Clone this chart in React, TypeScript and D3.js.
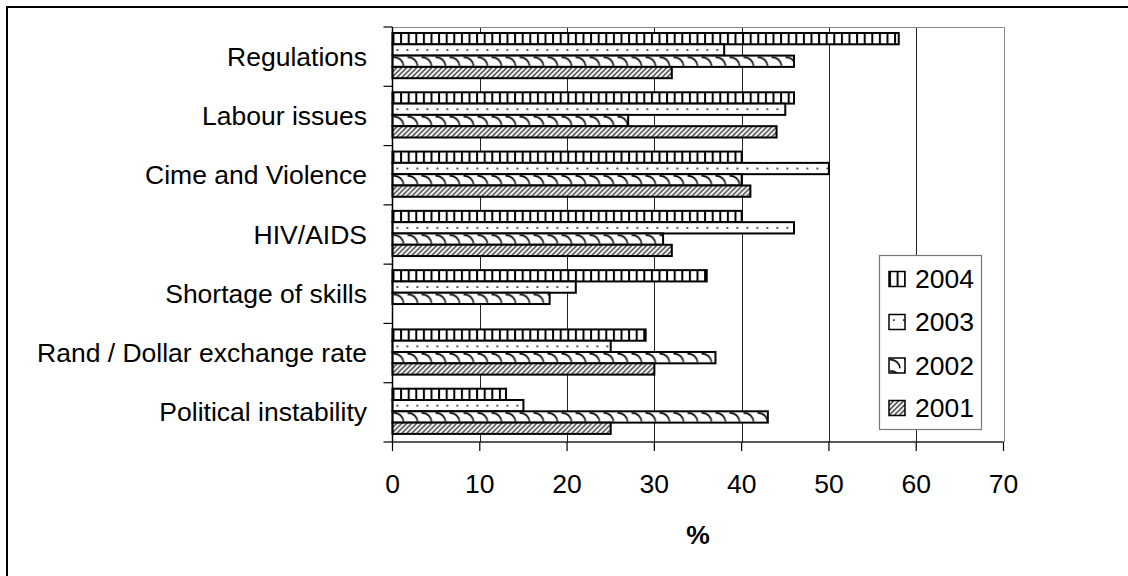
import React from "react";
import * as d3 from "d3";

// Share of respondents naming each constraint (%)
const categories = [
  "Regulations",
  "Labour issues",
  "Cime and Violence",
  "HIV/AIDS",
  "Shortage of skills",
  "Rand / Dollar exchange rate",
  "Political instability",
];
const years = ["2004", "2003", "2002", "2001"];
const values2004 = [58, 46, 40, 40, 36, 29, 13];
const values2003 = [38, 45, 50, 46, 21, 25, 15];
const values2002 = [46, 27, 40, 31, 18, 37, 43];
const values2001 = [32, 44, 41, 32, 0, 30, 25];
const xTicks = [0, 10, 20, 30, 40, 50, 60, 70];
const axisTitle = "%";

const seriesValues = [values2004, values2003, values2002, values2001];

const W = 1128;
const H = 576;
const plot = { left: 392.5, right: 1003.5, top: 27, bottom: 442 };
const FONT = "'Liberation Sans', Arial, sans-serif";
const FS = 26.5;
const BAR_H = 11.3;

export default function App() {
  const x = d3.scaleLinear().domain([0, 70]).range([plot.left, plot.right]);
  const y = d3.scaleBand<string>().domain(categories).range([plot.top, plot.bottom]);
  const inner = d3
    .scaleBand<string>()
    .domain(years)
    .range([6, 6 + BAR_H * 4]);

  const patternIds = ["pat2004", "pat2003", "pat2002", "pat2001"];

  const legend = { x: 879.5, y: 255.5, w: 102, h: 174 };
  const legendRowY = [279, 322, 365.5, 408];

  return (
    <svg
      width={W}
      height={H}
      style={{ position: "absolute", left: 0, top: 0, background: "#fff" }}
      fontFamily={FONT}
    >
      <defs>
        {/* vertical bars */}
        <pattern id="pat2004" patternUnits="userSpaceOnUse" width={7.6} height={BAR_H}>
          <rect width={7.6} height={BAR_H} fill="#fff" />
          <rect x={0} y={0} width={2} height={BAR_H} fill="#000" />
        </pattern>
        {/* sparse dots */}
        <pattern id="pat2003" patternUnits="userSpaceOnUse" width={10} height={BAR_H}>
          <rect width={10} height={BAR_H} fill="#fff" />
          <rect x={4} y={BAR_H / 2 - 0.8} width={1.6} height={1.6} fill="#000" />
        </pattern>
        {/* scallops */}
        <pattern id="pat2002" patternUnits="userSpaceOnUse" width={14} height={BAR_H}>
          <rect width={14} height={BAR_H} fill="#fff" />
          <path
            d={`M1,1.5 Q10,2 11,${BAR_H - 1}`}
            fill="none"
            stroke="#000"
            strokeWidth={1.5}
          />
        </pattern>
        {/* forward diagonal hatching */}
        <pattern id="pat2001" patternUnits="userSpaceOnUse" width={5} height={5}>
          <rect width={5} height={5} fill="#fff" />
          <path d="M-1,6 L6,-1 M-1,1 L1,-1 M4,6 L6,4" stroke="#000" strokeWidth={1.2} />
        </pattern>
      </defs>

      {/* outer frame */}
      <rect x={7} y={7} width={W + 20} height={H + 20} fill="none" stroke="#000" strokeWidth={2} />

      {/* gridlines */}
      {xTicks.slice(1).map((t) => (
        <line
          key={`g${t}`}
          x1={Math.round(x(t)) + 0.5}
          x2={Math.round(x(t)) + 0.5}
          y1={plot.top}
          y2={plot.bottom}
          stroke={t === 70 ? "#888" : "#222"}
          strokeWidth={1}
        />
      ))}
      <line x1={plot.left} x2={plot.right} y1={plot.top + 0.5} y2={plot.top + 0.5} stroke="#888" />

      {/* bars */}
      {categories.map((c, ci) =>
        years.map((yr, si) => {
          const v = seriesValues[si][ci];
          if (!v) return null;
          const by = (y(c) as number) + (inner(yr) as number);
          return (
            <g key={`${c}-${yr}`} transform={`translate(${plot.left},${by})`}>
              <rect
                x={0}
                y={0}
                width={x(v) - x(0)}
                height={BAR_H}
                fill={`url(#${patternIds[si]})`}
                stroke="#000"
                strokeWidth={2}
              />
            </g>
          );
        })
      )}

      {/* y axis */}
      <line x1={plot.left} x2={plot.left} y1={plot.top} y2={plot.bottom} stroke="#000" strokeWidth={1.5} />
      {[...categories.map((c) => y(c) as number), plot.bottom].map((ty, i) => (
        <line key={`yt${i}`} x1={plot.left - 9} x2={plot.left} y1={ty} y2={ty} stroke="#000" strokeWidth={1.2} />
      ))}
      {categories.map((c) => (
        <text
          key={`yl${c}`}
          x={367}
          y={(y(c) as number) + y.bandwidth() / 2}
          textAnchor="end"
          dominantBaseline="central"
          fontSize={FS}
          fill="#000"
        >
          {c}
        </text>
      ))}

      {/* x axis */}
      <line x1={plot.left} x2={plot.right} y1={plot.bottom} y2={plot.bottom} stroke="#222" strokeWidth={1.5} />
      {xTicks.map((t) => (
        <g key={`xt${t}`}>
          <line x1={x(t)} x2={x(t)} y1={plot.bottom} y2={plot.bottom + 9} stroke="#000" strokeWidth={1.2} />
          <text x={x(t)} y={484} textAnchor="middle" dominantBaseline="central" fontSize={FS} fill="#000">
            {t}
          </text>
        </g>
      ))}
      <text
        x={(plot.left + plot.right) / 2}
        y={535}
        textAnchor="middle"
        dominantBaseline="central"
        fontSize={FS}
        fontWeight="bold"
        fill="#000"
      >
        {axisTitle}
      </text>

      {/* legend */}
      <rect x={legend.x} y={legend.y} width={legend.w} height={legend.h} fill="#fff" stroke="#777" strokeWidth={1.2} />
      {years.map((yr, i) => (
        <g key={`lg${yr}`}>
          <g transform={`translate(889,${legendRowY[i] - 7.5})`}>
            <rect x={0} y={0} width={16} height={15} fill={`url(#${patternIds[i]})`} stroke="#000" strokeWidth={1.5} />
          </g>
          <text x={915} y={legendRowY[i]} dominantBaseline="central" fontSize={FS} fill="#000">
            {yr}
          </text>
        </g>
      ))}
    </svg>
  );
}
